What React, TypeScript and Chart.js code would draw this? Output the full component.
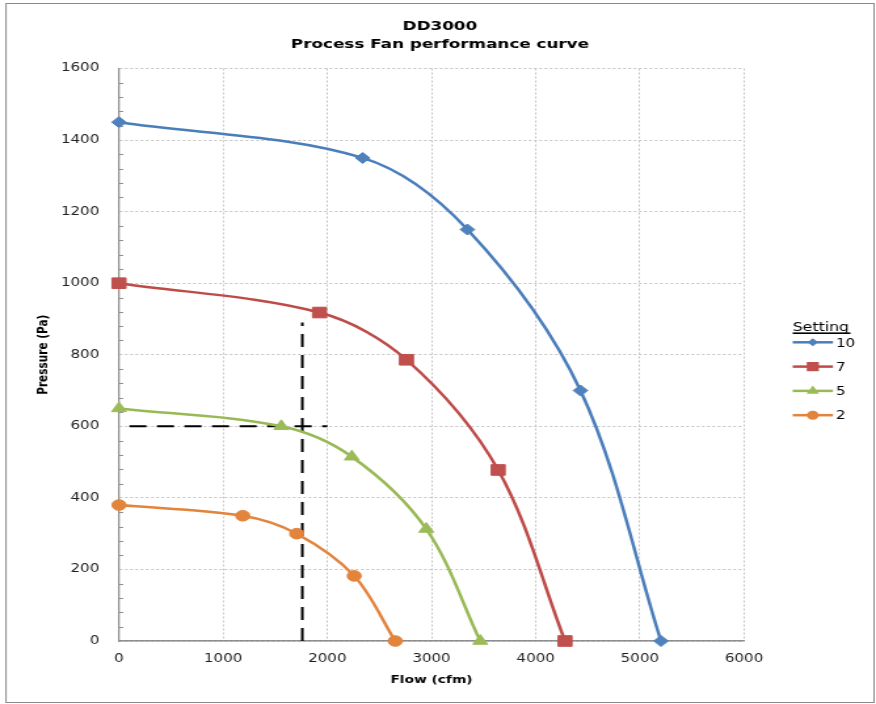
import React, { useEffect, useRef } from 'react';
import { Chart, registerables } from 'chart.js';

Chart.register(...registerables);

// ---------- data ----------
const settingNames = ['10', '7', '5', '2'];

const flow10 = [0, 2340, 3345, 4430, 5203];
const pressure10 = [1450, 1350, 1150, 700, 0];

const flow7 = [0, 1925, 2760, 3640, 4282];
const pressure7 = [1000, 918, 786, 478, 0];

const flow5 = [0, 1558, 2235, 2950, 3468];
const pressure5 = [650, 600, 515, 313, 0];

const flow2 = [0, 1188, 1706, 2258, 2652];
const pressure2 = [380, 350, 300, 182, 0];

// operating point guide lines
const guideFlowH = [100, 2000];
const guidePressureH = [600, 600];
const guideFlowV = [1760, 1760];
const guidePressureV = [0, 890];

// axis ticks
const xTickValues = [0, 1000, 2000, 3000, 4000, 5000, 6000];
const yTickValues = [0, 200, 400, 600, 800, 1000, 1200, 1400, 1600];
const yMinorStep = 40;

const titleLines = ['DD3000', 'Process Fan performance curve'];
const legendTitle = 'Setting';
const xAxisTitle = 'Flow (cfm)';
const yAxisTitle = 'Pressure (Pa)';

// ---------- styles ----------
const CANVAS_W = 668; // drawn width, shown stretched to 876 like the reference
const CANVAS_H = 704;
const FONT = '"DejaVu Sans", "Liberation Sans", sans-serif';

const lineColors = ['#4A7EBB', '#BE4B48', '#98B954', '#E3843D'];
const markerColors = ['#4F81BD', '#C0504D', '#9BBB59', '#E3843D'];
const pointStyles = ['rectRot', 'rect', 'triangle', 'circle'];
const pointRadii = [5.5, 7.5, 6.5, 5.3];
const legendRadii = [4, 6.5, 5.5, 4.5];

const seriesFlows = [flow10, flow7, flow5, flow2];
const seriesPressures = [pressure10, pressure7, pressure5, pressure2];

const axisColor = '#8E8E8E';
const gridColor = '#C4C4C4';

function drawMarker(ctx: CanvasRenderingContext2D, style: string, x: number, y: number, r: number) {
  ctx.beginPath();
  if (style === 'rectRot') {
    ctx.moveTo(x, y - r);
    ctx.lineTo(x + r, y);
    ctx.lineTo(x, y + r);
    ctx.lineTo(x - r, y);
    ctx.closePath();
  } else if (style === 'rect') {
    const s = Math.SQRT1_2 * r;
    ctx.rect(x - s, y - s, 2 * s, 2 * s);
  } else if (style === 'triangle') {
    ctx.moveTo(x, y - r);
    ctx.lineTo(x + r * Math.sin((2 * Math.PI) / 3), y - r * Math.cos((2 * Math.PI) / 3));
    ctx.lineTo(x + r * Math.sin((4 * Math.PI) / 3), y - r * Math.cos((4 * Math.PI) / 3));
    ctx.closePath();
  } else {
    ctx.arc(x, y, r, 0, Math.PI * 2);
  }
  ctx.fill();
}

const framePlugin = {
  id: 'frame',
  beforeDraw(chart: any) {
    const { ctx, width, height } = chart;
    ctx.save();
    ctx.fillStyle = '#ffffff';
    ctx.fillRect(0, 0, width, height);
    ctx.strokeStyle = '#8A8A8A';
    ctx.lineWidth = 1;
    ctx.strokeRect(4.6, 3.5, 661.9, 699);
    ctx.restore();
  },
};

const minorTickPlugin = {
  id: 'minorTicks',
  beforeDatasetsDraw(chart: any) {
    const { ctx, chartArea } = chart;
    const y = chart.scales.y;
    ctx.save();
    ctx.strokeStyle = axisColor;
    ctx.lineWidth = 1;
    ctx.beginPath();
    const max = yTickValues[yTickValues.length - 1];
    for (let v = yMinorStep; v < max; v += yMinorStep) {
      if (yTickValues.includes(v)) continue;
      const py = Math.round(y.getPixelForValue(v)) + 0.5;
      ctx.moveTo(chartArea.left, py);
      ctx.lineTo(chartArea.left + 3.2, py);
    }
    ctx.stroke();
    ctx.restore();
  },
};

const titleLegendPlugin = {
  id: 'titleLegend',
  afterDraw(chart: any) {
    const { ctx, width } = chart;
    ctx.save();
    // title
    ctx.fillStyle = '#000000';
    ctx.font = `bold 12.8px ${FONT}`;
    ctx.textAlign = 'center';
    ctx.textBaseline = 'middle';
    ctx.fillText(titleLines[0], width / 2 + 1.5, 27);
    ctx.fillText(titleLines[1], width / 2 + 1.5, 45);

    // legend
    const lx = 604.5;
    ctx.textAlign = 'left';
    ctx.textBaseline = 'alphabetic';
    ctx.font = `12px ${FONT}`;
    ctx.fillText(legendTitle, lx, 331);
    const tw = ctx.measureText(legendTitle).width;
    ctx.fillRect(lx, 332.4, tw + 1, 1.6);

    ctx.font = `11.5px ${FONT}`;
    settingNames.forEach((name, i) => {
      const cy = 342.3 + i * 24.3;
      ctx.strokeStyle = lineColors[i];
      ctx.lineWidth = 2.5;
      ctx.beginPath();
      ctx.moveTo(lx, cy);
      ctx.lineTo(lx + 30.7, cy);
      ctx.stroke();
      ctx.fillStyle = markerColors[i];
      drawMarker(ctx, pointStyles[i], lx + 15.3, cy, legendRadii[i]);
      ctx.fillStyle = '#000000';
      ctx.fillText(name, lx + 33, cy + 4.2);
    });
    ctx.restore();
  },
};

export default function App() {
  const ref = useRef<HTMLCanvasElement>(null);

  useEffect(() => {
    if (!ref.current) return;

    const seriesSets = settingNames.map((name, i) => ({
      label: name,
      data: seriesFlows[i].map((x, j) => ({ x, y: seriesPressures[i][j] })),
      showLine: true,
      borderColor: lineColors[i],
      backgroundColor: markerColors[i],
      borderWidth: 2.5,
      tension: 0.33,
      pointStyle: pointStyles[i],
      pointRadius: pointRadii[i],
      pointBackgroundColor: markerColors[i],
      pointBorderColor: markerColors[i],
      pointBorderWidth: 1,
      clip: false,
      order: 1,
    }));

    const guideH = {
      label: 'guideH',
      data: guideFlowH.map((x, j) => ({ x, y: guidePressureH[j] })),
      showLine: true,
      borderColor: '#000000',
      borderWidth: 2,
      borderDash: [13, 8],
      pointRadius: 0,
      tension: 0,
      order: 5,
    };
    const guideV = {
      label: 'guideV',
      data: guideFlowV.map((x, j) => ({ x, y: guidePressureV[j] })),
      showLine: true,
      borderColor: '#000000',
      borderWidth: 2,
      borderDash: [13, 8],
      pointRadius: 0,
      tension: 0,
      order: 5,
    };

    const tickFont = { family: FONT, size: 11.5 };
    const titleFont = { family: FONT, size: 10.5, weight: 'bold' as const };
    const plain = (v: any) => String(v);

    const chart = new Chart(ref.current, {
      type: 'scatter',
      data: { datasets: [...seriesSets, guideH, guideV] as any },
      plugins: [framePlugin, minorTickPlugin, titleLegendPlugin],
      options: {
        responsive: false,
        devicePixelRatio: 1,
        animation: false,
        events: [],
        layout: { padding: { top: 68.5, right: 100.67, bottom: 0, left: 0 } },
        plugins: {
          legend: { display: false },
          title: { display: false },
          tooltip: { enabled: false },
        },
        scales: {
          x: {
            type: 'linear',
            min: xTickValues[0],
            max: xTickValues[xTickValues.length - 1],
            afterBuildTicks: (scale: any) => {
              scale.ticks = xTickValues.map((v) => ({ value: v }));
            },
            afterFit: (scale: any) => {
              scale.height = 63;
            },
            ticks: {
              font: tickFont,
              color: '#222222',
              padding: 11.6,
              maxRotation: 0,
              autoSkip: false,
              callback: plain,
            },
            grid: { color: gridColor, lineWidth: 1, drawTicks: false },
            border: { display: true, color: axisColor, width: 1.5, dash: [2, 2] },
            title: {
              display: true,
              text: xAxisTitle,
              font: titleFont,
              color: '#000000',
              padding: { top: 4, bottom: 17.7 },
            },
          },
          y: {
            type: 'linear',
            min: yTickValues[0],
            max: yTickValues[yTickValues.length - 1],
            afterBuildTicks: (scale: any) => {
              scale.ticks = yTickValues.map((v) => ({ value: v }));
            },
            afterFit: (scale: any) => {
              scale.width = 90.74;
            },
            ticks: {
              font: tickFont,
              color: '#222222',
              padding: 15,
              autoSkip: false,
              callback: plain,
            },
            grid: { color: gridColor, lineWidth: 1, drawTicks: false },
            border: { display: true, color: axisColor, width: 1.3, dash: [2, 2] },
            title: {
              display: true,
              text: yAxisTitle,
              font: titleFont,
              color: '#000000',
              padding: { top: 27.3, bottom: 0 },
            },
          },
        },
      } as any,
    });

    return () => chart.destroy();
  }, []);

  return (
    <div
      style={{
        position: 'absolute',
        left: 0,
        top: 0,
        width: 876,
        height: 704,
        overflow: 'hidden',
        background: '#ffffff',
      }}
    >
      <canvas
        ref={ref}
        width={CANVAS_W}
        height={CANVAS_H}
        style={{ display: 'block', width: '876px', height: '704px' }}
      />
    </div>
  );
}
